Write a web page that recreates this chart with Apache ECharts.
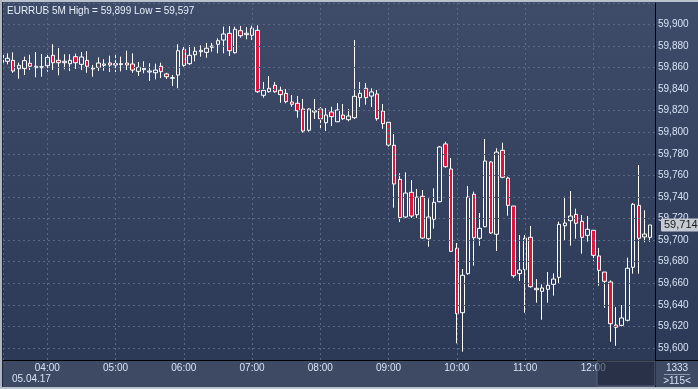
<!DOCTYPE html>
<html><head><meta charset="utf-8">
<script src="https://cdn.jsdelivr.net/npm/echarts@6/dist/echarts.min.js"></script>
<style>html,body{margin:0;padding:0;background:#2f3c59}#c{width:698px;height:389px}</style>
</head><body><div id="c"></div>
<script>
const times = ["03:20","03:25","03:30","03:35","03:40","03:45","03:50","03:55",
"04:00","04:05","04:10","04:15","04:20","04:25","04:30","04:35","04:40","04:45","04:50","04:55",
"05:00","05:05","05:10","05:15","05:20","05:25","05:30","05:35","05:40","05:45","05:50","05:55",
"06:00","06:05","06:10","06:15","06:20","06:25","06:30","06:35","06:40","06:45","06:50","06:55",
"07:00","07:05","07:10","07:15","07:20","07:25","07:30","07:35","07:40","07:45","07:50","07:55",
"08:00","08:05","08:10","08:15","08:20","08:25","08:30","08:35","08:40","08:45","08:50","08:55",
"09:00","09:05","09:10","09:15","09:20","09:25","09:30","09:35","09:40","09:45","09:50","09:55",
"10:00","10:05","10:10","10:15","10:20","10:25","10:30","10:35","10:40","10:45","10:50","10:55",
"11:00","11:05","11:10","11:15","11:20","11:25","11:30","11:35","11:40","11:45","11:50","11:55",
"12:00","12:05","12:10","12:15","12:20","12:25","12:30","12:35","12:40","12:45","12:50"];
const openP = [59872.2,59865.7,59866.6,59858.9,59858.9,59863.9,59859.8,59859.8,
59861.6,59871.3,59866.6,59864.4,59863.5,59870,59862.9,59866.6,59858.6,59860.1,59862,59864.1,
59862.3,59862.6,59864.1,59863.2,59856.4,59857.9,59855.8,59855.1,59861.1,59854,59850,59853,
59876.8,59863.5,59871.8,59874.6,59874,59878.7,59881.5,59885.4,59891.6,59873.7,59894.1,59890.4,
59889.8,59894.4,59834.2,59837.5,59843.5,59838.8,59836,59828,59826.8,59821.5,59801.8,59818.7,
59821.5,59808.8,59818.7,59809.7,59815.9,59811.6,59813.4,59832,59840.7,59833.5,59835.4,59819.6,
59809.2,59787.9,59756.3,59721.4,59744.3,59723.5,59740.6,59701.3,59719.3,59735.6,59789.1,59765.9,
59692.4,59632.7,59668.9,59742.4,59701.7,59712.4,59772.4,59705.4,59783.2,59757.5,59731.6,59668.9,
59672.6,59702.6,59654,59652.5,59654.4,59659,59665.5,59713.3,59718,59723.9,59717.4,59704.4,
59709.1,59685.3,59670.4,59661.2,59621.3,59621,59625.7,59674.8,59732.2,59702.9,59702.6];
const closeP = [59864.4,59868.5,59856.7,59862,59866.3,59861.1,59861.1,59860.7,
59869.4,59864.4,59864.4,59865.7,59866.6,59864.4,59869.7,59861.1,59859.5,59864.1,59863.2,59862.3,
59863.5,59863.5,59862.3,59857.6,59860.1,59859.2,59856.7,59857.6,59856.1,59851.4,59850.5,59875.5,
59862,59871.3,59875,59875.9,59877.8,59879.9,59884.8,59891,59875.5,59895.4,59889.4,59891.7,
59896.3,59837.5,59838.8,59840.7,59837.5,59834.8,59828.3,59825.9,59819.9,59801.1,59821.5,59819.9,
59812.5,59815.9,59814.4,59820.6,59812.5,59815,59833.3,59836,59832,59837.3,59812.5,59807.9,
59788.1,59752,59720.8,59743.6,59722.3,59739.9,59701.9,59721.4,59735,59786.3,59768,59689.6,
59631.8,59667.4,59739.9,59702.2,59710.9,59773.3,59706.6,59781.6,59758.2,59732.2,59667,59672.3,
59701.7,59656.8,59655.3,59655.6,59658.1,59663.9,59714.6,59715.8,59722.3,59715.6,59702.6,59710,
59685.9,59672,59661.8,59622.5,59619.2,59627.8,59673.9,59733.2,59701.7,59705.6,59714];
const lowP = [59862,59862.9,59855.1,59849.6,59853,59857.6,59850.9,59851.4,
59856.1,59857.6,59852.7,59858.3,59856.7,59858.6,59857.6,59855.1,59851.4,59856.7,59857,59855.8,
59855.8,59856.4,59857.6,59855.1,59852.1,59854.6,59847.4,59849,59850.2,59849.3,59842.8,59840.7,
59860.7,59862.3,59865.7,59870,59869,59874.6,59873.1,59873.1,59870.6,59872.8,59887.6,59886.1,
59885.4,59836.6,59832,59836.6,59836.6,59827.3,59826.8,59823.6,59813.4,59799.5,59800.5,59812.2,
59803.2,59801.1,59805.7,59809.5,59811.3,59810.1,59812.2,59823.4,59825.5,59823.4,59810.7,59803.2,
59786.6,59730,59716.8,59720.5,59720.5,59720.5,59701.3,59693.9,59710.6,59735,59767.1,59689.2,
59604.3,59596.6,59667.9,59676.3,59694.8,59711.9,59705.6,59689.9,59757.3,59722.6,59665.1,59662.1,
59632.7,59655.9,59642,59626.2,59642,59648.5,59659.6,59699.4,59694.8,59701.3,59687.4,59698.5,
59680.6,59657.7,59637.3,59605.8,59602.1,59620.1,59624.7,59668.9,59668.9,59698,59698.5];
const highP = [59874,59873.1,59874,59864.4,59870,59871.8,59874.3,59872.5,
59873.1,59881.5,59878,59872.2,59872.2,59872.8,59874.3,59875,59862.3,59869.4,59867.6,59870.9,
59871.5,59870,59875.5,59873.1,59865,59865.7,59863.9,59863.5,59864.4,59855.1,59853,59881.5,
59879.2,59880.5,59879.2,59880.5,59882.7,59882.7,59887,59897.8,59898.4,59897.8,59898.5,59897.3,
59898.8,59899,59846.5,59852.1,59846.5,59842.2,59840,59834.5,59833.5,59830.8,59822.4,59830.8,
59823.3,59822.4,59823.6,59827.1,59826.1,59821.5,59885.4,59846.5,59845.6,59840.7,59839.1,59826.1,
59809.2,59798.3,59761.9,59762.8,59755.7,59747.4,59746.4,59738.7,59748,59787.2,59791.2,59776.1,
59697.3,59673.2,59750.1,59744.9,59725.1,59793.7,59773.3,59785.1,59790.3,59758.8,59731.6,59704.7,
59704.7,59713.1,59663.9,59659,59670.4,59669.2,59717.1,59740.2,59745.5,59729.1,59723.3,59722.3,
59711.2,59692.7,59670.4,59662.7,59638,59639.8,59683.7,59734.4,59769.6,59727.6,59714];
const yTickLabels = ["59,600","59,620","59,640","59,660","59,680","59,700","59,720","59,740","59,760","59,780","59,800","59,820","59,840","59,860","59,880","59,900"];
const titleText = "EURRUB 5M High = 59,899 Low = 59,597";
const dateLabel = "05.04.17";
const lastPriceLabel = "59,714";
const countTop = "1333";
const countBottom = ">115<";

function toTs(s){const p=s.split(':');return new Date(2017,3,5,+p[0],+p[1]).getTime();}
const data = times.map((t,i)=>[toTs(t),openP[i],closeP[i],lowP[i],highP[i]]);
const fmt = v => { const r = Math.round(v); const s = String(r); return s.slice(0,2)+','+s.slice(2); };

const chart = echarts.init(document.getElementById('c'), null, {renderer:'canvas'});
const FONT = 'Liberation Sans';
chart.setOption({
  animation:false,
  backgroundColor:{type:'linear',x:0,y:0,x2:0,y2:1,colorStops:[{offset:0,color:'#3e4c69'},{offset:1,color:'#2b3855'}]},
  title:{text:titleText,left:2,top:1,textStyle:{color:'#e6eef9',fontSize:10,fontWeight:'normal',fontFamily:FONT}},
  grid:{left:3,right:43,top:3,bottom:29,containLabel:false},
  xAxis:{type:'time',min:new Date(2017,3,5,3,21,3).getTime(),max:new Date(2017,3,5,12,54,14).getTime(),
    minInterval:3600000,maxInterval:3600000,z:10,
    axisLine:{show:true,lineStyle:{color:'#000',width:1}},
    axisTick:{show:false},
    axisLabel:{formatter:'{HH}:{mm}',color:'#d6e2f4',fontSize:10,fontFamily:FONT,margin:3,showMinLabel:false,showMaxLabel:false,hideOverlap:false},
    splitLine:{show:true,lineStyle:{color:'#5a6883',type:[2,3],width:1}}},
  yAxis:{type:'value',position:'right',min:59588.88,max:59919.74,splitNumber:16,scale:true,z:10,
    axisLine:{show:true,lineStyle:{color:'#000',width:1}},
    axisTick:{show:false},
    axisLabel:{color:'#d6e2f4',fontSize:10,fontFamily:FONT,margin:3,showMinLabel:false,showMaxLabel:false,
      formatter:v=>{const i=yTickLabels.indexOf(fmt(v));return i>=0?yTickLabels[i]:'';}},
    splitLine:{show:true,lineStyle:{color:'#5a6883',type:[2,3],width:1}}},
  series:[{
    type:'candlestick',data:data,encode:{x:0,y:[1,2,3,4]},barWidth:4,clip:true,z:5,
    itemStyle:{color:'rgba(0,0,0,0)',color0:'#e3123b',borderColor:'#ffffff',borderColor0:'#ffffff',borderWidth:1},
    markLine:{silent:true,symbol:['none','path://M0,5 L5,0 L5,10 Z'],symbolSize:[5,10],symbolKeepAspect:false,symbolRotate:0,symbolOffset:[0,[5,0]],z:50,
      lineStyle:{color:'rgba(0,0,0,0)',width:1,type:'solid'},
      itemStyle:{color:'#c6cad2'},
      data:[{yAxis:closeP[closeP.length-1],symbol:['none','path://M0,5 L5,0 L5,10 Z'],symbolRotate:0,itemStyle:{color:'#c6cad2'}}],
      label:{show:true,position:'end',distance:6,formatter:lastPriceLabel,color:'#1a1a1a',fontSize:11,fontFamily:FONT,
        backgroundColor:'#c6cad2',padding:[1,4,1,3],borderRadius:1}}
  }],
  graphic:[
    {type:'rect',z:-5,shape:{x:3,y:361,width:652,height:26},style:{fill:'#3e4a64'}},
    {type:'rect',z:-5,shape:{x:656,y:361,width:42,height:26},style:{fill:'#3e4a64'}},
    {type:'line',z:20,shape:{x1:655,y1:360.5,x2:698,y2:360.5},style:{stroke:'#000',lineWidth:1}},
    {type:'line',z:20,shape:{x1:655.5,y1:360,x2:655.5,y2:387},style:{stroke:'#000',lineWidth:1}},
    {type:'rect',z:30,shape:{x:597,y:361,width:58,height:25},style:{fill:'rgba(22,30,48,0.55)',stroke:'#56627a',lineWidth:1}},
    {type:'text',z:20,left:12,top:374,style:{text:dateLabel,fill:'#d6e2f4',fontSize:10,fontFamily:FONT}},
    {type:'text',z:20,x:677,y:368,style:{text:countTop,fill:'#d6e2f4',fontSize:10,fontFamily:FONT,align:'center',verticalAlign:'middle'}},
    {type:'line',z:20,shape:{x1:664,y1:374.5,x2:690,y2:374.5},style:{stroke:'#8a96ad',lineWidth:1}},
    {type:'text',z:20,x:677,y:381,style:{text:countBottom,fill:'#d6e2f4',fontSize:10,fontFamily:FONT,align:'center',verticalAlign:'middle'}},
    {type:'rect',z:40,shape:{x:0,y:0,width:698,height:2},style:{fill:'#b9c1cd'}},
    {type:'rect',z:40,shape:{x:0,y:0,width:2,height:389},style:{fill:'#aeb6c3'}},
    {type:'rect',z:40,shape:{x:2,y:2,width:1,height:387},style:{fill:'#1c2436'}},
    {type:'rect',z:40,shape:{x:0,y:387,width:698,height:2},style:{fill:'#b9c1cd'}}
  ]
});
</script></body></html>
